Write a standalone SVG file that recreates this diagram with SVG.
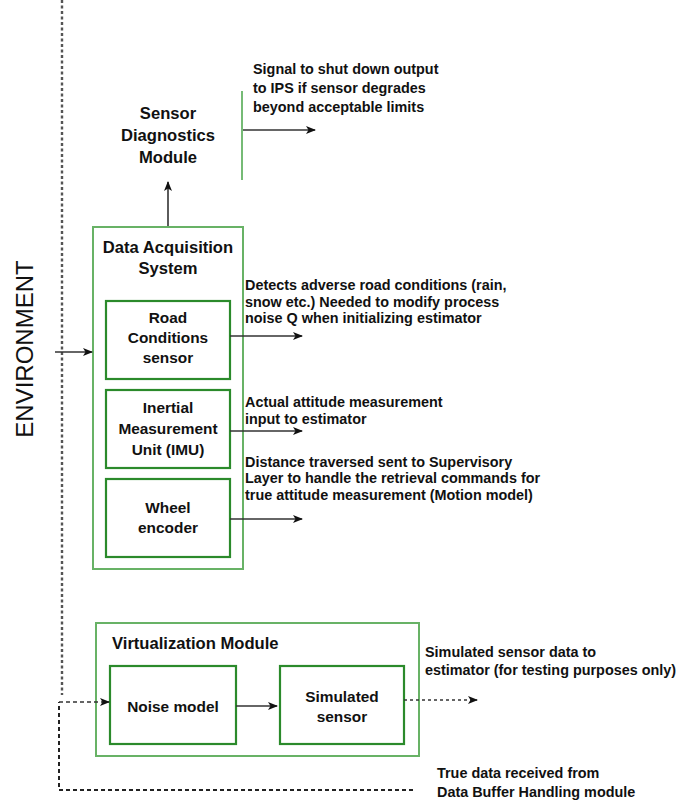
<svg xmlns="http://www.w3.org/2000/svg" width="678" height="801" viewBox="0 0 678 801">
<style>
text{font-family:"Liberation Sans",Arial,sans-serif;fill:#111;font-weight:bold}
.t{font-size:14.4px}
.h{font-size:16.6px}
.n{font-size:15.4px}
.env{font-size:24px;font-weight:normal}
.outer{fill:none;stroke:#68b266;stroke-width:2}
.inner{fill:none;stroke:#2b8a2b;stroke-width:2.2}
.c{fill:none;stroke:#333;stroke-width:1.6}
</style>
<defs>
<marker id="ah" markerWidth="10" markerHeight="8" refX="9" refY="4" orient="auto" markerUnits="userSpaceOnUse">
<path d="M0,0 L10,4 L0,8 L2.5,4 Z" fill="#111"/>
</marker>
</defs>
<rect width="678" height="801" fill="#fff"/>
<g id="environment">
<line x1="62" y1="0" x2="62" y2="695" stroke="#555" stroke-width="2.4" stroke-dasharray="3,2.5"/>
<text class="env" transform="translate(33,349) rotate(-90)" text-anchor="middle">ENVIRONMENT</text>
</g>
<g id="sensor-diagnostics">
<text class="h" text-anchor="middle" x="168" y="119">Sensor</text>
<text class="h" text-anchor="middle" x="168" y="141">Diagnostics</text>
<text class="h" text-anchor="middle" x="168" y="163">Module</text>
<line x1="242" y1="91" x2="242" y2="180" stroke="#76bb76" stroke-width="2"/>
</g>
<g id="signal-label">
<text class="t" x="253" y="74">Signal to shut down output</text>
<text class="t" x="253" y="93">to IPS if sensor degrades</text>
<text class="t" x="253" y="112">beyond acceptable limits</text>
</g>
<g id="data-acquisition">
<rect class="outer" x="93" y="227" width="150" height="342"/>
<text class="h" text-anchor="middle" x="168" y="253">Data Acquisition</text>
<text class="h" text-anchor="middle" x="168" y="274">System</text>
</g>
<g id="road-conditions">
<rect class="inner" x="106" y="301" width="124" height="78"/>
<text class="n" text-anchor="middle" x="168" y="323">Road</text>
<text class="n" text-anchor="middle" x="168" y="343">Conditions</text>
<text class="n" text-anchor="middle" x="168" y="363">sensor</text>
</g>
<g id="imu">
<rect class="inner" x="106" y="390" width="124" height="78"/>
<text class="n" text-anchor="middle" x="168" y="413">Inertial</text>
<text class="n" text-anchor="middle" x="168" y="434">Measurement</text>
<text class="n" text-anchor="middle" x="168" y="455">Unit (IMU)</text>
</g>
<g id="wheel-encoder">
<rect class="inner" x="106" y="479" width="124" height="78"/>
<text class="n" text-anchor="middle" x="168" y="513">Wheel</text>
<text class="n" text-anchor="middle" x="168" y="533">encoder</text>
</g>
<g id="labels">
<text class="t" x="245" y="290">Detects adverse road conditions (rain,</text>
<text class="t" x="245" y="307">snow etc.) Needed to modify process</text>
<text class="t" x="245" y="323">noise Q when initializing estimator</text>
<text class="t" x="245" y="407">Actual attitude measurement</text>
<text class="t" x="245" y="424">input to estimator</text>
<text class="t" x="245" y="467">Distance traversed sent to Supervisory</text>
<text class="t" x="245" y="483">Layer to handle the retrieval commands for</text>
<text class="t" x="245" y="500">true attitude measurement (Motion model)</text>
<text class="t" x="425" y="657">Simulated sensor data to</text>
<text class="t" x="425" y="675">estimator (for testing purposes only)</text>
<text class="t" x="437" y="778">True data received from</text>
<text class="t" x="437" y="797">Data Buffer Handling module</text>
</g>
<g id="virtualization">
<rect class="outer" x="96" y="623" width="323" height="133"/>
<text class="h" x="112" y="649">Virtualization Module</text>
</g>
<g id="noise-model">
<rect class="inner" x="110" y="666" width="126" height="78"/>
<text class="n" text-anchor="middle" x="173" y="712">Noise model</text>
</g>
<g id="simulated-sensor">
<rect class="inner" x="280" y="666" width="124" height="78"/>
<text class="n" text-anchor="middle" x="342" y="702">Simulated</text>
<text class="n" text-anchor="middle" x="342" y="722">sensor</text>
</g>
<g id="connectors">
<line class="c" x1="168" y1="226" x2="168" y2="182" marker-end="url(#ah)" stroke="#555" stroke-width="2.2"/>
<line class="c" x1="243" y1="130" x2="315" y2="130" marker-end="url(#ah)"/>
<line class="c" x1="55" y1="352" x2="92" y2="352" marker-end="url(#ah)"/>
<line class="c" x1="230" y1="336" x2="302" y2="336" marker-end="url(#ah)"/>
<line class="c" x1="230" y1="431" x2="302" y2="431" marker-end="url(#ah)"/>
<line class="c" x1="230" y1="519" x2="302" y2="519" marker-end="url(#ah)"/>
<line class="c" x1="236" y1="706" x2="277" y2="706" marker-end="url(#ah)"/>
<line class="c" x1="404" y1="700" x2="477" y2="700" marker-end="url(#ah)" stroke-dasharray="3,3"/>
<path d="M413,790 L59,790 L59,702" fill="none" stroke="#222" stroke-width="2" stroke-dasharray="4,3"/>
<line class="c" x1="59" y1="702" x2="109" y2="702" marker-end="url(#ah)" stroke-dasharray="4,3" stroke="#222"/>
</g>
</svg>
